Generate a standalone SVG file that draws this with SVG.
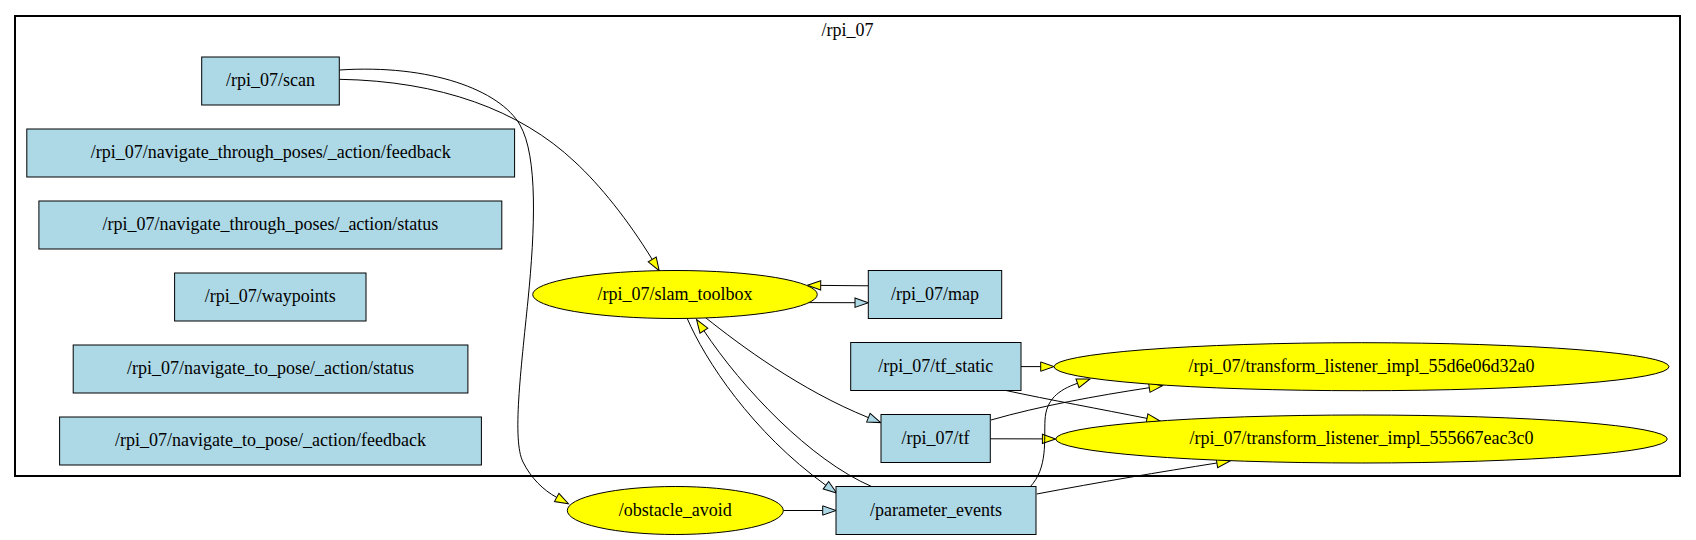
<svg xmlns="http://www.w3.org/2000/svg" width="1696" height="540" viewBox="0 0 1696 540" font-family="'Liberation Serif', 'Times New Roman', Times, serif" font-size="18">
<style>
.t{fill:#add8e6;stroke:#000;stroke-width:1}
.n{fill:#ffff00;stroke:#000;stroke-width:1}
.l{font-family:'Liberation Serif','Times New Roman',Times,serif;font-size:18px;text-anchor:middle;fill:#000}
.e{fill:none;stroke:#000;stroke-width:1}
</style>
<defs>
<marker id="aY" markerUnits="userSpaceOnUse" markerWidth="16" markerHeight="12" viewBox="-1 -6 16 12" refX="0" refY="0" orient="auto" overflow="visible">
<path d="M0,-4.67 L13.3,0 L0,4.67 Z" fill="#ffff00" stroke="#000" stroke-width="1"/>
</marker>
<marker id="aB" markerUnits="userSpaceOnUse" markerWidth="16" markerHeight="12" viewBox="-1 -6 16 12" refX="0" refY="0" orient="auto" overflow="visible">
<path d="M0,-4.67 L13.3,0 L0,4.67 Z" fill="#add8e6" stroke="#000" stroke-width="1"/>
</marker>
</defs>
<rect x="0" y="0" width="1696" height="540" fill="#fff"/>
<g id="cluster_rpi_07">
<rect x="15" y="16" width="1665" height="460" fill="none" stroke="#000" stroke-width="2"/>
<text class="l" x="847.5" y="35.5">/rpi_07</text>
</g>
<g id="edges">
<path class="e" marker-end="url(#aY)" d="M339.5,79.3 C440,81 520,110 575,162 C600,185 628,220 652.2,259.4"/>
<path class="e" marker-end="url(#aY)" d="M339.5,70 C430,64 500,90 520,125 C538,156.5 535,230 528,300 C521,370 512,440 523,462 C531,478 543,490 556.7,497.4"/>
<path class="e" marker-end="url(#aB)" d="M806,302.6 L855,302.7"/>
<path class="e" marker-end="url(#aY)" d="M868.3,285.8 L820.7,285.4"/>
<path class="e" marker-end="url(#aB)" d="M706,318 C740,345 800,390 868.4,417.6"/>
<path class="e" marker-end="url(#aB)" d="M687,318 C705,360 752,432 825.9,485.3"/>
<path class="e" marker-end="url(#aY)" d="M872,486.7 C810,460 742,388 703.9,330.7"/>
<path class="e" marker-end="url(#aB)" d="M783.3,510.5 L822.7,510.5"/>
<path class="e" marker-end="url(#aY)" d="M1021,366.6 L1040.7,366.6"/>
<path class="e" marker-end="url(#aY)" d="M1005,390.3 C1050,400 1100,409 1147,418.4"/>
<path class="e" marker-end="url(#aY)" d="M991,420 C1040,406 1095,396 1149.3,387.7"/>
<path class="e" marker-end="url(#aY)" d="M990.3,438.8 L1042.4,438.9"/>
<path class="e" marker-end="url(#aY)" d="M1030,487 C1048,468 1044,440 1045,420 C1046,400 1058,390 1077.5,383.3"/>
<path class="e" marker-end="url(#aY)" d="M1036.7,494 C1100,482 1160,472 1216.9,463"/>
</g>
<g id="n_scan"><rect class="t" x="201.7" y="57" width="137.6" height="48"/><text class="l" x="270.5" y="86">/rpi_07/scan</text></g>
<g id="n_ntp_feedback"><rect class="t" x="26.8" y="129" width="487.8" height="48"/><text class="l" x="270.7" y="158">/rpi_07/navigate_through_poses/_action/feedback</text></g>
<g id="n_ntp_status"><rect class="t" x="38.9" y="201" width="462.9" height="48"/><text class="l" x="270.4" y="230">/rpi_07/navigate_through_poses/_action/status</text></g>
<g id="n_waypoints"><rect class="t" x="174.6" y="273" width="191.4" height="48"/><text class="l" x="270.3" y="302">/rpi_07/waypoints</text></g>
<g id="n_ntpose_status"><rect class="t" x="73.2" y="345" width="394.7" height="48"/><text class="l" x="270.5" y="374">/rpi_07/navigate_to_pose/_action/status</text></g>
<g id="n_ntpose_feedback"><rect class="t" x="59.6" y="417" width="421.8" height="48"/><text class="l" x="270.5" y="446">/rpi_07/navigate_to_pose/_action/feedback</text></g>
<g id="n_slam"><ellipse class="n" cx="675" cy="294.5" rx="142.3" ry="24"/><text class="l" x="675" y="299.5">/rpi_07/slam_toolbox</text></g>
<g id="n_map"><rect class="t" x="868.3" y="270.5" width="133.4" height="48"/><text class="l" x="935" y="299.5">/rpi_07/map</text></g>
<g id="n_tf_static"><rect class="t" x="850.7" y="342.5" width="170.3" height="48"/><text class="l" x="935.8" y="371.5">/rpi_07/tf_static</text></g>
<g id="n_tf"><rect class="t" x="881" y="414.5" width="109.3" height="48"/><text class="l" x="935.6" y="443.5">/rpi_07/tf</text></g>
<g id="n_tl_55d6"><ellipse class="n" cx="1361.5" cy="366.7" rx="307.5" ry="24"/><text class="l" x="1361.5" y="371.7">/rpi_07/transform_listener_impl_55d6e06d32a0</text></g>
<g id="n_tl_5556"><ellipse class="n" cx="1361.5" cy="439" rx="305.8" ry="24"/><text class="l" x="1361.5" y="444">/rpi_07/transform_listener_impl_555667eac3c0</text></g>
<g id="n_obstacle"><ellipse class="n" cx="675.3" cy="510.5" rx="108" ry="24"/><text class="l" x="675.3" y="515.5">/obstacle_avoid</text></g>
<g id="n_param"><rect class="t" x="836" y="486.5" width="200" height="48"/><text class="l" x="936" y="515.5">/parameter_events</text></g>
</svg>
